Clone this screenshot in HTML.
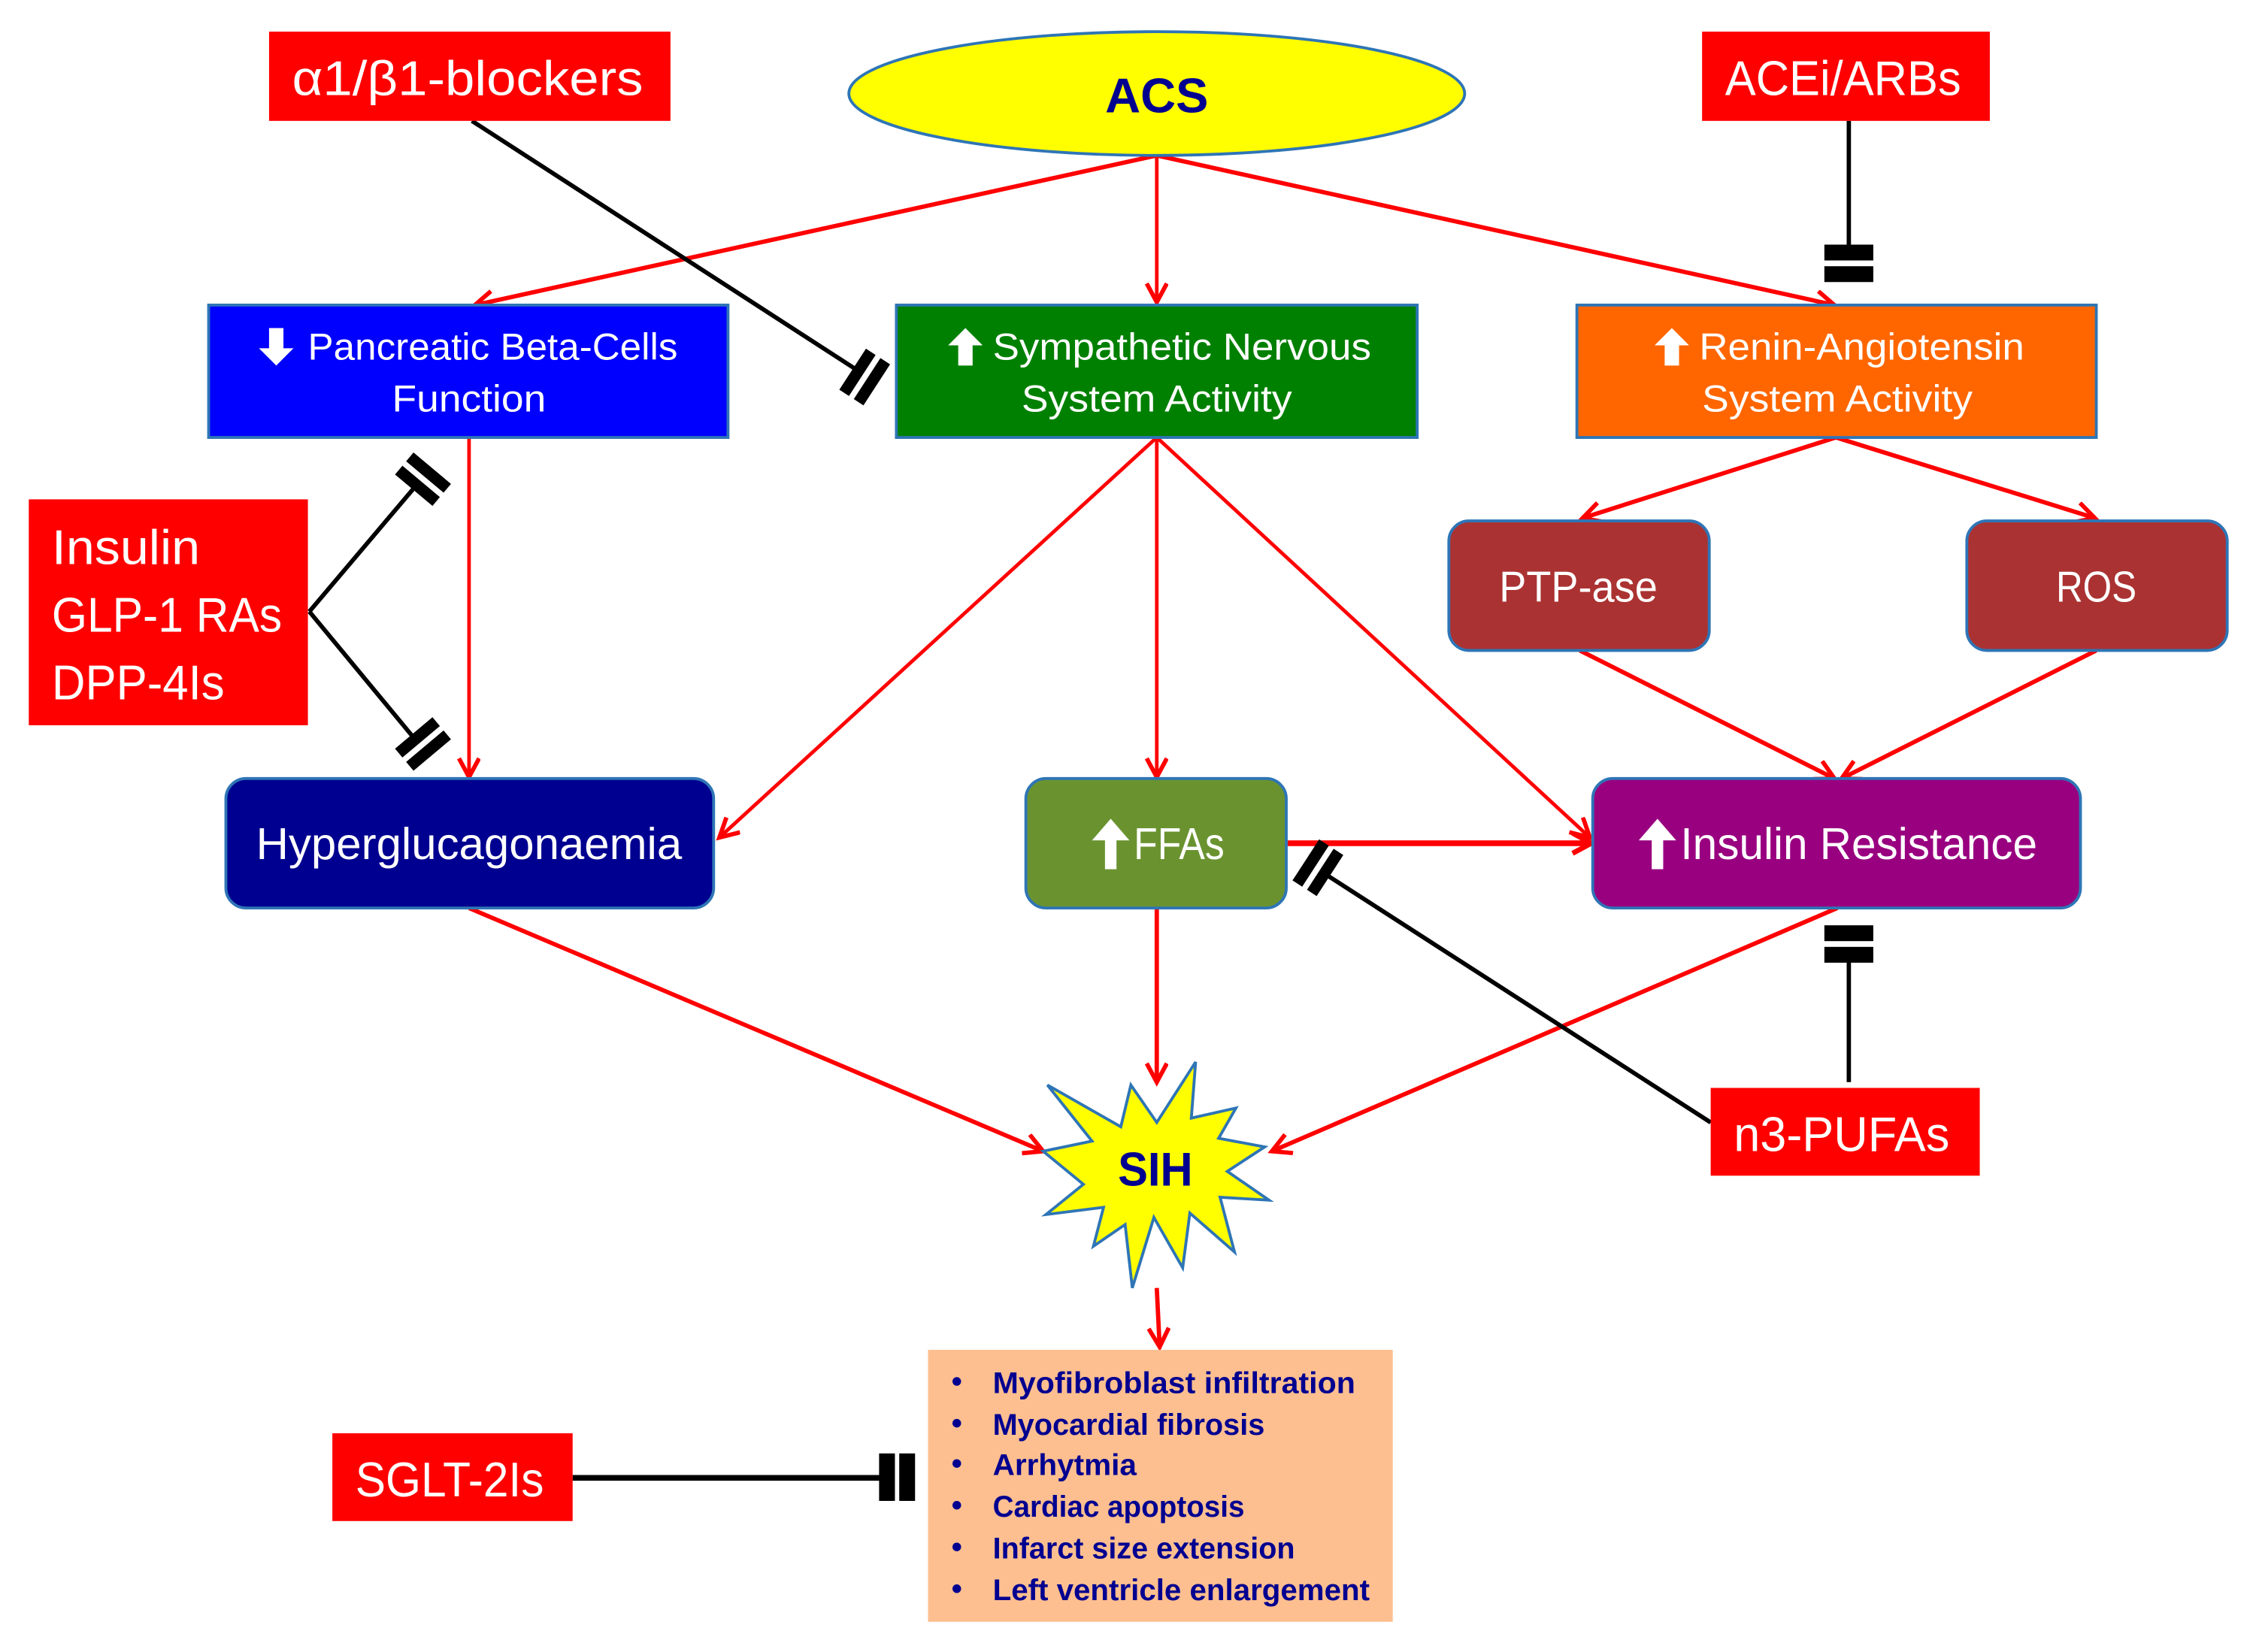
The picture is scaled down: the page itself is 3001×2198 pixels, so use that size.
<!DOCTYPE html>
<html><head><meta charset="utf-8"><style>
html,body{margin:0;padding:0;background:#fff;}
svg{display:block;}
text{font-family:"Liberation Sans",sans-serif;}
</style></head><body>
<svg width="3001" height="2198" viewBox="0 0 1568 1148" preserveAspectRatio="none" xmlns="http://www.w3.org/2000/svg">
<defs>
<marker id="ah" markerWidth="18" markerHeight="18" refX="14" refY="8" orient="auto" markerUnits="userSpaceOnUse">
<path d="M1,1 L14,8 L1,15" fill="none" stroke="#f00" stroke-width="3"/>
</marker>
<marker id="ahb" markerWidth="18" markerHeight="18" refX="14" refY="8" orient="auto" markerUnits="userSpaceOnUse">
<path d="M1,1 L14,8 L1,15" fill="none" stroke="#f00" stroke-width="3.5"/>
</marker>
</defs>

<g stroke="#f00" fill="none">
<line x1="804" y1="108" x2="330" y2="212" stroke-width="3" marker-end="url(#ah)"/>
<line x1="804" y1="108" x2="804" y2="210" stroke-width="2.5" marker-end="url(#ah)"/>
<line x1="804" y1="108" x2="1275" y2="212" stroke-width="3" marker-end="url(#ah)"/>
<line x1="326" y1="304" x2="326" y2="540" stroke-width="2.5" marker-end="url(#ah)"/>
<line x1="804" y1="304" x2="500" y2="582" stroke-width="2.5" marker-end="url(#ah)"/>
<line x1="804" y1="304" x2="804" y2="540" stroke-width="2.5" marker-end="url(#ah)"/>
<line x1="804" y1="304" x2="1105" y2="582" stroke-width="2.5" marker-end="url(#ah)"/>
<line x1="1276" y1="304" x2="1100" y2="360" stroke-width="3" marker-end="url(#ah)"/>
<line x1="1276" y1="304" x2="1456" y2="360" stroke-width="3" marker-end="url(#ah)"/>
<line x1="1098" y1="452" x2="1275" y2="541" stroke-width="3" marker-end="url(#ah)"/>
<line x1="1457" y1="452" x2="1280" y2="541" stroke-width="3" marker-end="url(#ah)"/>
<line x1="895" y1="586" x2="1106" y2="586" stroke-width="4" marker-end="url(#ahb)"/>
<line x1="326" y1="631" x2="725" y2="800" stroke-width="3" marker-end="url(#ah)"/>
<line x1="804" y1="631" x2="804" y2="752" stroke-width="3" marker-end="url(#ah)"/>
<line x1="1277" y1="631" x2="884" y2="800" stroke-width="3" marker-end="url(#ah)"/>
<line x1="804" y1="895" x2="806" y2="936" stroke-width="3" marker-end="url(#ah)"/>
</g>

<g stroke="#000" stroke-width="3" fill="none">
<line x1="328" y1="84" x2="597" y2="258"/>
<line x1="1285" y1="84" x2="1285" y2="172"/>
<line x1="215" y1="425" x2="287" y2="340"/>
<line x1="215" y1="425" x2="287" y2="512"/>
<line x1="1189" y1="780" x2="922" y2="608"/>
<line x1="1285" y1="752" x2="1285" y2="668"/>
<line x1="398" y1="1027" x2="612" y2="1027" stroke-width="4"/>
</g>
<g fill="#000">
<g transform="translate(601,262) rotate(33)"><rect x="-10" y="-17" width="8" height="34"/><rect x="2" y="-17" width="8" height="34"/></g>
<rect x="1268" y="170" width="34" height="11"/><rect x="1268" y="185" width="34" height="11"/>
<g transform="translate(294,333) rotate(-50)"><rect x="-10" y="-17" width="8" height="34"/><rect x="2" y="-17" width="8" height="34"/></g>
<g transform="translate(294,517) rotate(50)"><rect x="-10" y="-17" width="8" height="34"/><rect x="2" y="-17" width="8" height="34"/></g>
<g transform="translate(916,603) rotate(33)"><rect x="-10" y="-17" width="8" height="34"/><rect x="2" y="-17" width="8" height="34"/></g>
<rect x="1268" y="643" width="34" height="11"/><rect x="1268" y="658" width="34" height="11"/>
<rect x="611" y="1010" width="11" height="33"/><rect x="625" y="1010" width="11" height="33"/>
</g>

<ellipse cx="804" cy="65" rx="214" ry="43" fill="#ffff00" stroke="#2e75b6" stroke-width="2"/>
<text x="804" y="78" text-anchor="middle" font-size="34" font-weight="bold" fill="#000090">ACS</text>

<g fill="#ff0000">
<rect x="187" y="22" width="279" height="62"/>
<rect x="1183" y="22" width="200" height="62"/>
<rect x="20" y="347" width="194" height="157"/>
<rect x="1189" y="756" width="187" height="61"/>
<rect x="231" y="996" width="167" height="61"/>
</g>
<g fill="#fff" font-size="34">
<text x="203" y="66" textLength="244" lengthAdjust="spacingAndGlyphs">α1/β1-blockers</text>
<text x="1199" y="66" textLength="164" lengthAdjust="spacingAndGlyphs">ACEi/ARBs</text>
<text x="36" y="392" textLength="103" lengthAdjust="spacingAndGlyphs">Insulin</text>
<text x="36" y="439" textLength="160" lengthAdjust="spacingAndGlyphs">GLP-1 RAs</text>
<text x="36" y="486" textLength="120" lengthAdjust="spacingAndGlyphs">DPP-4Is</text>
<text x="1205" y="800" textLength="150" lengthAdjust="spacingAndGlyphs">n3-PUFAs</text>
<text x="247" y="1040" textLength="131" lengthAdjust="spacingAndGlyphs">SGLT-2Is</text>
</g>

<rect x="145" y="212" width="361" height="92" fill="#0000ff" stroke="#2e75b6" stroke-width="2"/>
<rect x="623" y="212" width="362" height="92" fill="#008000" stroke="#2e75b6" stroke-width="2"/>
<rect x="1096" y="212" width="361" height="92" fill="#ff6600" stroke="#2e75b6" stroke-width="2"/>
<g fill="#fff" font-size="26">
<path d="M187,228 v14 h-7 l12,12 l12,-12 h-7 v-14 z"/>
<text x="214" y="250" textLength="257" lengthAdjust="spacingAndGlyphs">Pancreatic Beta-Cells</text>
<text x="326" y="286" text-anchor="middle" textLength="107" lengthAdjust="spacingAndGlyphs">Function</text>
<path d="M666,254 v-14 h-7 l12,-12 l12,12 h-7 v14 z"/>
<text x="690" y="250" textLength="263" lengthAdjust="spacingAndGlyphs">Sympathetic Nervous</text>
<text x="804" y="286" text-anchor="middle" textLength="188" lengthAdjust="spacingAndGlyphs">System Activity</text>
<path d="M1157,254 v-14 h-7 l12,-12 l12,12 h-7 v14 z"/>
<text x="1181" y="250" textLength="226" lengthAdjust="spacingAndGlyphs">Renin-Angiotensin</text>
<text x="1277" y="286" text-anchor="middle" textLength="188" lengthAdjust="spacingAndGlyphs">System Activity</text>
</g>

<rect x="1007" y="362" width="181" height="90" rx="14" fill="#ab3232" stroke="#2e75b6" stroke-width="2"/>
<rect x="1367" y="362" width="181" height="90" rx="14" fill="#ab3232" stroke="#2e75b6" stroke-width="2"/>
<text x="1097" y="418" text-anchor="middle" font-size="30" fill="#fff" textLength="110" lengthAdjust="spacingAndGlyphs">PTP-ase</text>
<text x="1457" y="418" text-anchor="middle" font-size="30" fill="#fff" textLength="56" lengthAdjust="spacingAndGlyphs">ROS</text>

<rect x="157" y="541" width="339" height="90" rx="14" fill="#000090" stroke="#2e75b6" stroke-width="2"/>
<rect x="713" y="541" width="181" height="90" rx="14" fill="#6a9330" stroke="#2e75b6" stroke-width="2"/>
<rect x="1107" y="541" width="339" height="90" rx="14" fill="#990080" stroke="#2e75b6" stroke-width="2"/>
<g fill="#fff" font-size="31">
<text x="326" y="597" text-anchor="middle" textLength="296" lengthAdjust="spacingAndGlyphs">Hyperglucagonaemia</text>
<path d="M768,604 v-20 h-9 l13,-15 l13,15 h-9 v20 z"/>
<text x="788" y="597" textLength="63" lengthAdjust="spacingAndGlyphs">FFAs</text>
<path d="M1148,604 v-20 h-9 l13,-15 l13,15 h-9 v20 z"/>
<text x="1168" y="597" textLength="248" lengthAdjust="spacingAndGlyphs">Insulin Resistance</text>
</g>

<polygon points="831,738 828,777 859,770 847,791 879,797 853,814 882,834 848,832 858,870 827,843 822,881 802,846 787,895 782,851 760,866 767,839 727,844 753,823 725,800 759,793 728,754 779,783 786,754 804,780" fill="#ffff00" stroke="#2e75b6" stroke-width="2" stroke-linejoin="miter"/>
<text x="803" y="824" text-anchor="middle" font-size="33" font-weight="bold" fill="#000090" textLength="52" lengthAdjust="spacingAndGlyphs">SIH</text>

<rect x="645" y="938" width="323" height="189" fill="#fdbf8f"/>
<g fill="#000090" font-size="21" font-weight="bold">
<circle cx="665" cy="960" r="3"/><text x="690" y="968" textLength="252" lengthAdjust="spacingAndGlyphs">Myofibroblast infiltration</text>
<circle cx="665" cy="989" r="3"/><text x="690" y="997" textLength="189" lengthAdjust="spacingAndGlyphs">Myocardial fibrosis</text>
<circle cx="665" cy="1017" r="3"/><text x="690" y="1025" textLength="100" lengthAdjust="spacingAndGlyphs">Arrhytmia</text>
<circle cx="665" cy="1046" r="3"/><text x="690" y="1054" textLength="175" lengthAdjust="spacingAndGlyphs">Cardiac apoptosis</text>
<circle cx="665" cy="1075" r="3"/><text x="690" y="1083" textLength="210" lengthAdjust="spacingAndGlyphs">Infarct size extension</text>
<circle cx="665" cy="1104" r="3"/><text x="690" y="1112" textLength="262" lengthAdjust="spacingAndGlyphs">Left ventricle enlargement</text>
</g>
</svg>
</body></html>
